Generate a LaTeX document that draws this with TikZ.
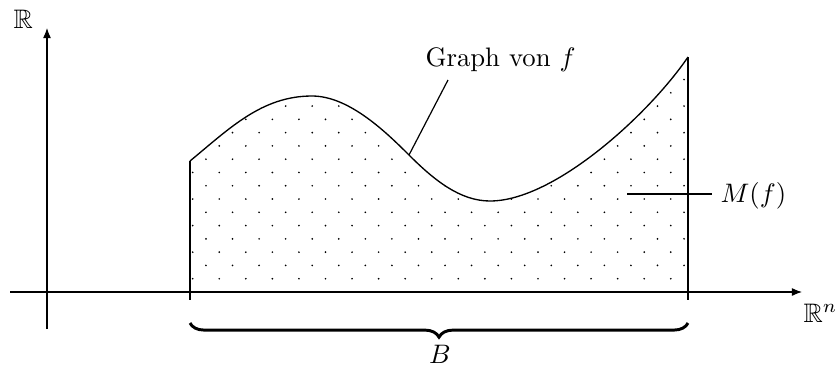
\documentclass[tikz,border=0pt]{standalone}
\usepackage{amssymb}
\usetikzlibrary{arrows.meta,decorations.pathreplacing}
\tikzset{
  axis/.style={line width=0.4pt,-{Latex[length=3.8pt,width=3pt]}},
  graphline/.style={line width=0.5pt},
  lbl/.style={inner sep=0pt},
  pointer/.style={line width=0.45pt},
  dotmark/.style={fill=black},
  bracestyle/.style={line width=1.1pt,decorate,decoration={brace,mirror,amplitude=5.3pt}}
}
\def\graphpath{(190,161) .. controls (230,128) and (262,96) .. (312,96)
  .. controls (348,96) and (384,130) .. (409,155)
  .. controls (434,180) and (460,201) .. (490,201)
  .. controls (555,201) and (650,113) .. (688,57)}
\begin{document}
\begin{tikzpicture}[x=0.374pt,y=-0.374pt]
\useasboundingbox (0,0) rectangle (835,365);
% axes
\coordinate (xs) at (10,292);
\coordinate (xe) at (802,292);
\coordinate (ys) at (47,329);
\coordinate (ye) at (47,28);
% region boundary
\coordinate (L) at (190,161);
\coordinate (Lb) at (190,300);
\coordinate (Rt) at (688,57);
\coordinate (Rb) at (688,300);
% dotted fill
\begin{scope}
\clip \graphpath -- (688,291) -- (190,291) -- cycle;
\foreach \j in {0,...,17} {
  \foreach \i in {0,...,19} {
    \fill[dotmark] ({192.7+mod(\j,2)*13.28+26.56*\i},{278.7-13.28*\j}) circle (0.35pt);
  }
}
\end{scope}
% graph
\draw[graphline] \graphpath;
\draw[graphline] (L) -- (Lb);
\draw[graphline] (Rt) -- (Rb);
\draw[axis] (xs) -- (xe);
\draw[axis] (ys) -- (ye);
% labels
\node[lbl,anchor=base west] (Rlab) at (13,28) {$\mathbb{R}$};
\node[lbl,anchor=base west] (Rnlab) at (803,322) {$\mathbb{R}^n$};
\node[lbl,anchor=base west] (glab) at (425,66) {Graph von $f$};
\node[lbl,anchor=base west] (mlab) at (720,202) {$M(f)$};
\coordinate (gp) at (409,155);
\coordinate (gt) at (448,80);
\draw[pointer] (gp) -- (gt);
\coordinate (ms) at (627,194);
\coordinate (me) at (712,194);
\draw[pointer] (ms) -- (me);
% brace
\coordinate (bl) at (190,323);
\coordinate (br) at (688,323);
\draw[bracestyle] (bl) -- (br);
\node[lbl,anchor=base] (Blab) at (440,363) {$B$};
\end{tikzpicture}
\end{document}
